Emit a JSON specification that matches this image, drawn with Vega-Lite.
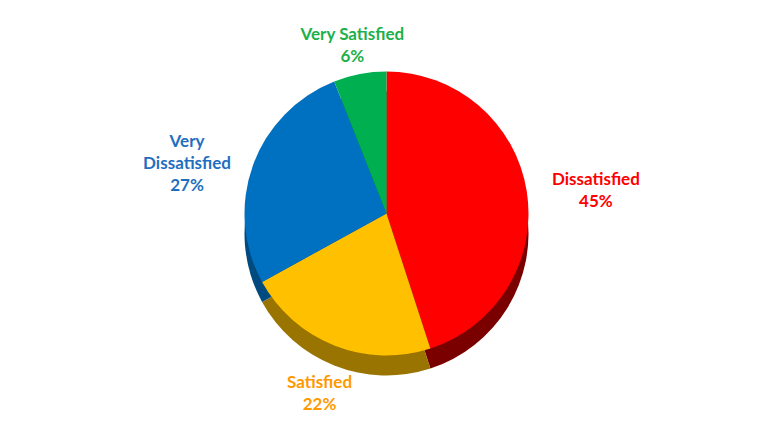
{
  "$schema": "https://vega.github.io/schema/vega-lite/v6.json",
  "width": 773,
  "height": 427,
  "autosize": {"type": "fit", "contains": "padding"},
  "background": "white",
  "data": {
    "values": [
      {"category": "Dissatisfied", "value": 45, "order": 1, "label": "Dissatisfied\n45%"},
      {"category": "Satisfied", "value": 22, "order": 2, "label": "Satisfied\n22%"},
      {"category": "Very Dissatisfied", "value": 27, "order": 3, "label": "Very\nDissatisfied\n27%"},
      {"category": "Very Satisfied", "value": 6, "order": 4, "label": "Very Satisfied\n6%"}
    ]
  },
  "transform": [
    {"stack": "value", "groupby": [], "sort": [{"field": "order", "order": "ascending"}], "as": ["start", "end"]},
    {"calculate": "(datum.start + datum.end) / 2", "as": "mid"}
  ],
  "layer": [
    {
      "mark": {"type": "arc", "outerRadius": 142, "yOffset": 20},
      "encoding": {
        "theta": {"field": "start", "type": "quantitative", "scale": {"domain": [0, 100]}},
        "theta2": {"field": "end"},
        "color": {
          "field": "category", "type": "nominal", "legend": null,
          "scale": {"domain": ["Dissatisfied", "Satisfied", "Very Dissatisfied", "Very Satisfied"],
                    "range": ["#7a0000", "#9a7400", "#004a80", "#006a30"]}
        }
      }
    },
    {
      "mark": {"type": "arc", "outerRadius": 142},
      "encoding": {
        "theta": {"field": "start", "type": "quantitative", "scale": {"domain": [0, 100]}},
        "theta2": {"field": "end"},
        "color": {
          "field": "category", "type": "nominal", "legend": null,
          "scale": {"domain": ["Dissatisfied", "Satisfied", "Very Dissatisfied", "Very Satisfied"],
                    "range": ["#ff0000", "#ffc000", "#0070c0", "#00b050"]}
        }
      }
    },
    {
      "transform": [{"filter": "datum.category === 'Dissatisfied'"}],
      "mark": {"type": "text", "radius": 212, "align": "center", "font": "Lato", "fontWeight": "bold", "fontSize": 17, "lineBreak": "\n", "lineHeight": 22, "color": "#ff0000"},
      "encoding": {
        "theta": {"field": "mid", "type": "quantitative", "scale": {"domain": [0, 100]}},
        "text": {"field": "label"}
      }
    },
    {
      "transform": [{"filter": "datum.category === 'Very Dissatisfied'"}],
      "mark": {"type": "text", "radius": 212, "align": "center", "font": "Lato", "fontWeight": "bold", "fontSize": 17, "lineBreak": "\n", "lineHeight": 22, "color": "#1f6fc0"},
      "encoding": {
        "theta": {"field": "mid", "type": "quantitative", "scale": {"domain": [0, 100]}},
        "text": {"field": "label"}
      }
    },
    {
      "transform": [{"filter": "datum.category === 'Satisfied'"}],
      "mark": {"type": "text", "radius": 182, "font": "Lato", "fontWeight": "bold", "fontSize": 17, "lineBreak": "\n", "lineHeight": 22, "color": "#ff9900"},
      "encoding": {
        "theta": {"field": "mid", "type": "quantitative", "scale": {"domain": [0, 100]}},
        "text": {"field": "label"}
      }
    },
    {
      "transform": [{"filter": "datum.category === 'Very Satisfied'"}],
      "mark": {"type": "text", "radius": 182, "font": "Lato", "fontWeight": "bold", "fontSize": 17, "lineBreak": "\n", "lineHeight": 22, "color": "#1db04b"},
      "encoding": {
        "theta": {"field": "mid", "type": "quantitative", "scale": {"domain": [0, 100]}},
        "text": {"field": "label"}
      }
    }
  ],
  "resolve": {"scale": {"color": "independent"}},
  "config": {"view": {"stroke": null}}
}
